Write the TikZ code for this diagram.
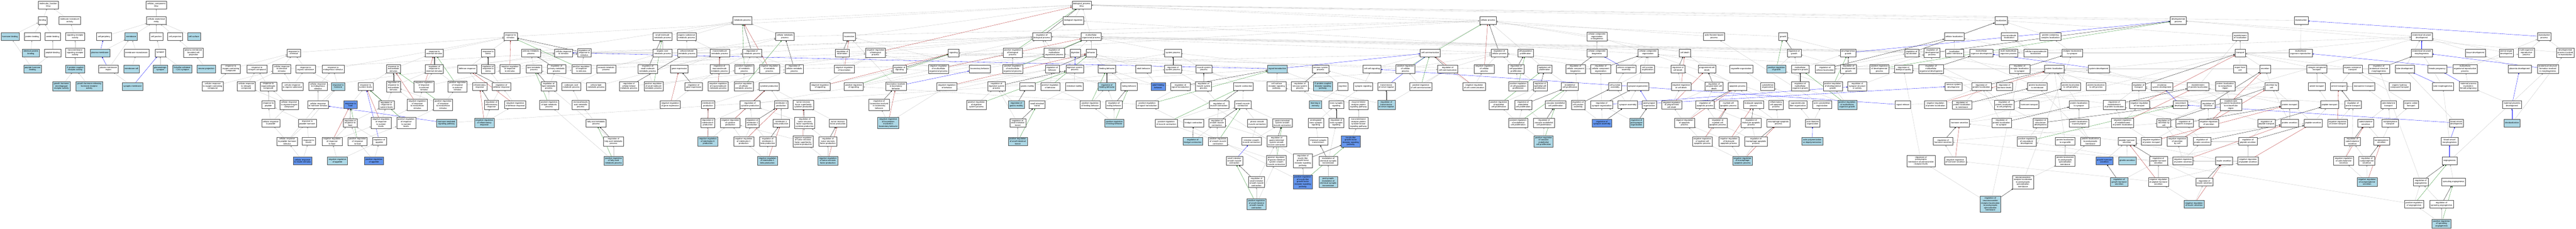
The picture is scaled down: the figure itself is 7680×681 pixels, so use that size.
\documentclass[tikz,border=0pt]{standalone}
\usepackage{fontspec}
\setmainfont{Liberation Sans}
\usetikzlibrary{arrows.meta}
\pgfdeclarelayer{edges}
\pgfsetlayers{edges,main}
\definecolor{hitblue}{HTML}{ADD8E6}
\definecolor{seedblue}{HTML}{6495ED}
\definecolor{negred}{HTML}{B22222}
\definecolor{posgreen}{HTML}{228B22}

\begin{document}
\begin{tikzpicture}[x=1pt,y=-1pt,
  term/.style={draw=black!70,fill=white,line width=0.6pt,align=center,inner xsep=3.5pt,inner ysep=3.5pt,minimum height=23pt,font=\fontsize{6.2}{7}\selectfont},
  hitterm/.style={term,fill=hitblue},
  seedterm/.style={term,fill=seedblue},
  isa/.style={draw=black!24,line width=0.5pt,-{Triangle[length=4pt,width=3.2pt]}},
  regl/.style={isa,draw=black},
  negl/.style={isa,draw=negred},
  posl/.style={isa,draw=posgreen},
  partl/.style={isa,draw=blue},
]
\useasboundingbox (0,0) rectangle (7680,681);

% molecular function
\node[term] (mf) at (144,14.5) {molecular\_function\\Ghsr};
\node[term] (bind) at (127,61) {binding};
\node[term] (moltr) at (208,61) {molecular transducer\\activity};
\node[hitterm] (hormb) at (30,109) {hormone binding};
\node[term] (protb) at (96,109) {protein binding};
\node[term] (amideb) at (157,109) {amide binding};
\node[term] (sigrec) at (224,109) {signaling receptor\\activity};
\node[hitterm] (identb) at (92,157) {identical protein\\binding};
\node[term] (peptb) at (157,157) {peptide binding};
\node[term] (tmsig) at (224,157) {transmembrane\\signaling receptor\\activity};
\node[hitterm] (phormb) at (97,205) {peptide hormone\\binding};
\node[hitterm] (gpcr) at (224,205) {G protein-coupled\\receptor activity};
\node[hitterm] (ghsr) at (183,257) {growth hormone\\secretagogue\\receptor activity};
\node[hitterm] (ghrhr) at (266,257) {growth hormone-releasing\\hormone receptor\\activity};

% cellular component
\node[term] (cc) at (466,14.5) {cellular\_component\\Ghsr};
\node[term] (cae) at (466,61) {cellular anatomical\\entity};
\node[term] (cperi) at (310,109) {cell periphery};
\node[hitterm] (memb) at (391,109) {membrane};
\node[term] (cjunc) at (466,109) {cell junction};
\node[term] (cproj) at (522,109) {cell projection};
\node[hitterm] (csurf) at (578,109) {cell surface};
\node[hitterm] (pm) at (298,157) {plasma membrane};
\node[term] (mmicro) at (407,157) {membrane microdomain};
\node[term] (syn) at (478,157) {synapse};
\node[term] (pmbcp) at (577,157) {plasma membrane\\bounded cell\\projection};
\node[term] (pmreg) at (323,205) {plasma membrane\\region};
\node[hitterm] (mraft) at (392,205) {membrane raft};
\node[hitterm] (gsyn) at (478,205) {glutamatergic\\synapse};
\node[hitterm] (schaf) at (543,205) {Schaffer collateral\\- CA1 synapse};
\node[hitterm] (nproj) at (615,205) {neuron projection};
\node[hitterm] (synm) at (395,257) {synaptic membrane};

% biological process: response to stimulus
\node[term] (rstim) at (1522,109) {response to\\stimulus};
\node[term] (rchem) at (876,157) {response to\\chemical};
\node[term] (rext) at (1295,157) {response to\\external stimulus};
\node[term] (rstress) at (1455,157) {response to\\stress};
\node[term] (pmp) at (1583,157) {primary metabolic\\process};
\node[term] (crstim) at (1680,157) {cellular response\\to stimulus};
\node[term] (regrs) at (1742,157) {regulation of\\response to\\stimulus};
\node[term] (ro2) at (688,205) {response to\\oxygen-containing\\compound};
\node[term] (rnitro) at (766,205) {response to\\nitrogen compound};
\node[term] (crchem) at (840,205) {cellular response\\to chemical\\stimulus};
\node[term] (rorg) at (911,205) {response to\\organic substance};
\node[term] (rendo) at (993,205) {response to\\endogenous stimulus};
\node[term] (rexc) at (1173,205) {response to\\extracellular\\stimulus};
\node[term] (regrext) at (1295,205) {regulation of\\response to\\external stimulus};
\node[term] (defr) at (1393,205) {defense response};
\node[term] (regrstress) at (1455,205) {regulation of\\response to\\stress};
\node[term] (nregrs) at (1520,205) {negative regulation\\of response\\to stimulus};
\node[term] (lmp) at (1592,205) {lipid metabolic\\process};
\node[term] (regpmp) at (1659,205) {regulation of\\primary metabolic\\process};
\node[term] (pregrs) at (1733,205) {positive regulation\\of response\\to stimulus};
\node[term] (oxo) at (1807,205) {oxoacid metabolic\\process};
\node[term] (regsmmp) at (1931,205) {regulation of\\small molecule\\metabolic process};
\node[term] (cro2) at (634,257) {cellular response\\to oxygen-containing\\compound};
\node[term] (crnitro) at (734,257) {cellular response\\to nitrogen\\compound};
\node[term] (rorgn) at (800,257) {response to\\organonitrogen\\compound};
\node[term] (crorg) at (872,257) {cellular response\\to organic substance};
\node[term] (crendo) at (948,257) {cellular response\\to endogenous\\stimulus};
\node[hitterm] (rhorm) at (1008,257) {response to\\hormone};
\node[term] (rnut) at (1090,257) {response to\\nutrient levels};
\node[term] (regrexc) at (1173,257) {regulation of\\response to\\extracellular\\stimulus};
\node[term] (nregrext) at (1264,257) {negative regulation\\of response\\to external\\stimulus};
\node[term] (pregrext) at (1364,257) {positive regulation\\of response\\to external\\stimulus};
\node[term] (infl) at (1430,257) {inflammatory\\response};
\node[term] (regdef) at (1495,257) {regulation of\\defense response};
\node[term] (reglmp) at (1636,257) {regulation of\\lipid metabolic\\process};
\node[term] (carbox) at (1703,257) {carboxylic acid\\metabolic process};
\node[term] (cellmp) at (1777,257) {cellular lipid\\metabolic process};
\node[term] (regckmp) at (1875,257) {regulation of\\cellular ketone\\metabolic process};
\node[term] (pregsmmp) at (1948,257) {positive regulation\\of small molecule\\metabolic process};
\node[term] (rpep) at (800,312) {response to\\peptide};
\node[term] (crorgn) at (862,312) {cellular response\\to organonitrogen\\compound};
\node[term] (crhorm) at (948,312) {cellular response\\to hormone stimulus};
\node[seedterm] (rfood) at (1045,312) {response to\\food};
\node[term] (regrnut) at (1152,312) {regulation of\\response to\\nutrient levels};
\node[term] (nregrexc) at (1244,312) {negative regulation\\of response\\to extracellular\\stimulus};
\node[term] (pregrexc) at (1321,312) {positive regulation\\of response\\to extracellular\\stimulus};
\node[term] (reginfl) at (1465,312) {regulation of\\inflammatory\\response};
\node[term] (nregdef) at (1536,312) {negative regulation\\of defense response};
\node[term] (preglmp) at (1637,312) {positive regulation\\of lipid metabolic\\process};
\node[term] (monocarb) at (1731,312) {monocarboxylic\\acid metabolic\\process};
\node[term] (crpep) at (807,366) {cellular response\\to peptide};
\node[term] (rphorm) at (916,366) {response to\\peptide hormone};
\node[term] (regrfood) at (1044,366) {regulation of\\response to\\food};
\node[term] (nregrnut) at (1136,366) {negative regulation\\of response\\to nutrient\\levels};
\node[term] (pregrnut) at (1211,366) {positive regulation\\of response\\to nutrient\\levels};
\node[hitterm] (hmsig) at (1331,366) {hormone-mediated\\signaling pathway};
\node[hitterm] (nreginfl) at (1444,366) {negative regulation\\of inflammatory\\response};
\node[term] (famp) at (1777,366) {fatty acid metabolic\\process};
\node[term] (crphorm) at (856,421) {cellular response\\to peptide hormone\\stimulus};
\node[term] (rins) at (920,421) {response to\\insulin};
\node[term] (nregrfood) at (990,421) {negative regulation\\of response\\to food};
\node[term] (pregrfood) at (1066,421) {positive regulation\\of response\\to food};
\node[term] (regapp) at (1131,421) {regulation of\\appetite};
\node[term] (regfamp) at (1829,421) {regulation of\\fatty acid metabolic\\process};
\node[seedterm] (crins) at (902,479) {cellular response\\to insulin stimulus};
\node[hitterm] (nregapp) at (1006,479) {negative regulation\\of appetite};
\node[seedterm] (pregapp) at (1115,479) {positive regulation\\of appetite};
\node[hitterm] (pregfamp) at (1829,479) {positive regulation\\of fatty acid\\metabolic process};

% metabolism, regulation, behavior
\node[term] (bp) at (3225,14.5) {biological\_process\\Ghsr};
\node[term] (mp) at (2213,61) {metabolic process};
\node[term] (bioreg) at (3200,61) {biological regulation};
\node[term] (smmp) at (1975,109) {small molecule\\metabolic process};
\node[term] (osmp) at (2047,109) {organic substance\\metabolic process};
\node[term] (cmp) at (2340,109) {cellular metabolic\\process};
\node[term] (loco) at (2532,109) {locomotion};
\node[term] (regbp) at (3106,109) {regulation of\\biological process};
\node[term] (oamp) at (1975,157) {organic acid\\metabolic process};
\node[term] (ckmp) at (2048,157) {cellular ketone\\metabolic process};
\node[term] (mmp) at (2146,157) {macromolecule\\metabolic process};
\node[term] (regmp) at (2242,157) {regulation of\\metabolic process};
\node[term] (regloco) at (2511,157) {regulation of\\locomotion};
\node[term] (nregbp) at (2610,157) {negative regulation\\of biological\\process};
\node[term] (sig) at (2843,157) {signaling};
\node[term] (pregbp) at (3019,157) {positive regulation\\of biological\\process};
\node[term] (regmop) at (3143,157) {regulation of\\multicellular\\organismal process};
\node[term] (dig) at (3206,157) {digestion};
\node[term] (gexp) at (2025,205) {gene expression};
\node[term] (regmmp) at (2145,205) {regulation of\\macromolecule\\metabolic process};
\node[term] (pregmp) at (2219,205) {positive regulation\\of metabolic\\process};
\node[term] (nregmp) at (2294,205) {negative regulation\\of metabolic\\process};
\node[term] (regcmp) at (2368,205) {regulation of\\cellular metabolic\\process};
\node[term] (nregloco) at (2517,205) {negative regulation\\of locomotion};
\node[term] (regsig) at (2682,205) {regulation of\\signaling};
\node[term] (nregmop) at (2798,205) {negative regulation\\of multicellular\\organismal process};
\node[term] (lbeh) at (2921,205) {locomotory behavior};
\node[term] (pregmop) at (3019,205) {positive regulation\\of multicellular\\organismal process};
\node[term] (regbeh) at (3137,205) {regulation of\\behavior};
\node[term] (digsp) at (3204,205) {digestive system\\process};
\node[term] (regge) at (2068,257) {regulation of\\gene expression};
\node[term] (nregmmp) at (2141,257) {negative regulation\\of macromolecule\\metabolic process};
\node[term] (pregcmp) at (2217,257) {positive regulation\\of cellular\\metabolic process};
\node[term] (cytok) at (2293,257) {cytokine production};
\node[term] (nregsig) at (2445,257) {negative regulation\\of signaling};
\node[term] (pregsig) at (2545,257) {positive regulation\\of signaling};
\node[term] (lilb) at (2671,257) {locomotion involved\\in locomotory\\behavior};
\node[term] (nregbeh) at (2823,257) {negative regulation\\of behavior};
\node[term] (regdsp) at (2971,257) {regulation of\\digestive system\\process};
\node[term] (gmot) at (3063,257) {gastric motility};
\node[term] (pregbeh) at (3131,257) {positive regulation\\of behavior};
\node[term] (imot) at (3203,257) {intestinal motility};
\node[term] (nregge) at (1998,312) {negative regulation\\of gene expression};
\node[term] (il6) at (2111,312) {interleukin-6\\production};
\node[term] (regcytok) at (2236,312) {regulation of\\cytokine production};
\node[term] (il1) at (2329,312) {interleukin-1\\production};
\node[term] (tnfsf) at (2395,312) {tumor necrosis\\factor superfamily\\cytokine production};
\node[term] (reglilb) at (2621,312) {regulation of\\locomotion involved\\in locomotory\\behavior};
\node[term] (pregdsp) at (2911,312) {positive regulation\\of digestive\\system process};
\node[hitterm] (reggmot) at (3030,312) {regulation of\\gastric motility};
\node[term] (sit) at (3092,312) {small intestinal\\transit};
\node[term] (regil6) at (2110,366) {regulation of\\interleukin-6\\production};
\node[term] (nregcytok) at (2177,366) {negative regulation\\of cytokine\\production};
\node[term] (regil1) at (2243,366) {regulation of\\interleukin-1\\production};
\node[term] (il1b) at (2329,366) {interleukin-1\\beta production};
\node[term] (regtnfsf) at (2399,366) {regulation of\\tumor necrosis\\factor superfamily\\cytokine production};
\node[term] (tnf) at (2498,366) {tumor necrosis\\factor production};
\node[hitterm] (nreglilb) at (2648,366) {negative regulation\\of locomotion\\involved in\\locomotory behavior};
\node[term] (regsit) at (3034,366) {regulation of\\small intestinal\\transit};
\node[hitterm] (nregil6) at (2110,421) {negative regulation\\of interleukin-6\\production};
\node[term] (nregil1) at (2217,421) {negative regulation\\of interleukin-1\\production};
\node[term] (regil1b) at (2289,421) {regulation of\\interleukin-1\\beta production};
\node[term] (nregtnfsf) at (2394,421) {negative regulation\\of tumor necrosis\\factor superfamily\\cytokine production};
\node[term] (regtnf) at (2468,421) {regulation of\\tumor necrosis\\factor production};
\node[hitterm] (pregsit) at (3034,421) {positive regulation\\of small intestinal\\transit};
\node[hitterm] (nregil1b) at (2288,479) {negative regulation\\of interleukin-1\\beta production};
\node[hitterm] (nregtnf) at (2468,479) {negative regulation\\of tumor necrosis\\factor production};

% system processes, signaling
\node[term] (cp) at (4436,61) {cellular process};
\node[term] (mop) at (3253,109) {multicellular\\organismal process};
\node[term] (beh) at (3253,157) {behavior};
\node[term] (sysp) at (3497,157) {system process};
\node[term] (ccomm) at (4264,157) {cell communication};
\node[term] (regcp) at (4470,157) {regulation of\\cellular process};
\node[term] (fbeh) at (3300,205) {feeding behavior};
\node[term] (abeh) at (3409,205) {adult behavior};
\node[term] (regsysp) at (3497,205) {regulation of\\system process};
\node[term] (msp) at (3589,205) {muscle system\\process};
\node[hitterm] (sigt) at (3808,205) {signal transduction};
\node[term] (nsp) at (3937,205) {nervous system\\process};
\node[term] (ccsig) at (4090,205) {cell-cell signaling};
\node[term] (pregcp) at (4190,205) {positive regulation\\of cellular\\process};
\node[term] (regcc) at (4316,205) {regulation of\\cell communication};
\node[term] (nregcp) at (4425,205) {negative regulation\\of cellular\\process};
\node[hitterm] (regfbeh) at (3300,257) {regulation of\\feeding behavior};
\node[term] (ebeh) at (3366,257) {eating behavior};
\node[seedterm] (afbeh) at (3453,257) {adult feeding\\behavior};
\node[term] (regst) at (3519,257) {regulation of\\signal transduction};
\node[term] (regmsp) at (3588,257) {regulation of\\muscle system\\process};
\node[term] (mcon) at (3707,257) {muscle contraction};
\node[term] (csrsp) at (3806,257) {cell surface\\receptor signaling\\pathway};
\node[term] (regnsp) at (3875,257) {regulation of\\nervous system\\process};
\node[hitterm] (gpcrsp) at (3944,257) {G protein-coupled\\receptor signaling\\pathway};
\node[term] (cogn) at (4003,257) {cognition};
\node[term] (synsig) at (4064,257) {synaptic signaling};
\node[term] (tni) at (4133,257) {transmission\\of nerve impulse};
\node[term] (pregcc) at (4236,257) {positive regulation\\of cell communication};
\node[term] (nregcc) at (4395,257) {negative regulation\\of cell communication};
\node[term] (pregfbeh) at (3250,312) {positive regulation\\of feeding behavior};
\node[term] (regebeh) at (3321,312) {regulation of\\eating behavior};
\node[term] (pregst) at (3420,312) {positive regulation\\of signal transduction};
\node[term] (regmcon) at (3634,312) {regulation of\\muscle contraction};
\node[term] (smcon) at (3705,312) {smooth muscle\\contraction};
\node[hitterm] (learn) at (3922,312) {learning or\\memory};
\node[term] (tsyn) at (3984,312) {trans-synaptic\\signaling};
\node[term] (elrp) at (4050,312) {enzyme-linked\\receptor protein\\signaling pathway};
\node[hitterm] (regtni) at (4133,312) {regulation of\\transmission\\of nerve impulse};
\node[term] (pregepi) at (4468,312) {positive regulation\\of epithelial\\cell proliferation};
\node[hitterm] (pregebeh) at (3322,366) {positive regulation\\of eating behavior};
\node[term] (pregmcon) at (3477,366) {positive regulation\\of muscle contraction};
\node[term] (hgcon) at (3558,366) {hindgut contraction};
\node[term] (regsmcon) at (3628,366) {regulation of\\smooth muscle\\contraction};
\node[term] (phsm) at (3748,366) {phasic smooth\\muscle contraction};
\node[term] (gism) at (3823,366) {gastro-intestinal\\system smooth\\muscle contraction};
\node[term] (atsyn) at (3923,366) {anterograde\\trans-synaptic\\signaling};
\node[term] (regtsyn) at (3984,366) {regulation of\\trans-synaptic\\signaling};
\node[term] (rptk) at (4050,366) {transmembrane\\receptor protein\\tyrosine kinase\\signaling pathway};
\node[hitterm] (reghg) at (3556,421) {regulation of\\hindgut contraction};
\node[term] (pregsmcon) at (3631,421) {positive regulation\\of smooth muscle\\contraction};
\node[term] (ismc) at (3731,421) {intestine smooth\\muscle contraction};
\node[term] (reggism) at (3806,421) {regulation of\\gastro-intestinal\\system smooth\\muscle contraction};
\node[term] (cst) at (3930,421) {chemical synaptic\\transmission};
\node[seedterm] (igfr) at (4027,421) {insulin-like\\growth factor\\receptor signaling\\pathway};
\node[term] (sismc) at (3680,479) {small intestine\\smooth muscle\\contraction};
\node[term] (preggism) at (3805,479) {positive regulation\\of gastro-intestinal\\system smooth\\muscle contraction};
\node[term] (regigfr) at (3884,479) {regulation of\\insulin-like\\growth factor\\receptor signaling\\pathway};
\node[term] (modcst) at (3960,479) {modulation of\\chemical synaptic\\transmission};
\node[term] (regsismc) at (3746,542) {regulation of\\small intestine\\smooth muscle\\contraction};
\node[seedterm] (pregigfr) at (3884,542) {positive regulation\\of insulin-like\\growth factor\\receptor signaling\\pathway};
\node[hitterm] (psmcst) at (3960,542) {postsynaptic\\modulation of\\chemical synaptic\\transmission};
\node[hitterm] (pregsismc) at (3746,608) {positive regulation\\of small intestine\\smooth muscle\\contraction};

% proliferation, organization, death, growth
\node[term] (ccob) at (4761,109) {cellular component\\organization\\or biogenesis};
\node[term] (afbp) at (5110,109) {actin filament-based\\process};
\node[term] (growth) at (5316,109) {growth};
\node[term] (cpp) at (4548,157) {cell population\\proliferation};
\node[term] (ccb) at (4761,157) {cellular component\\biogenesis};
\node[term] (cco) at (4913,157) {cellular component\\organization};
\node[term] (cdeath) at (5023,157) {cell death};
\node[term] (reggrowth) at (5349,157) {regulation of\\growth};
\node[term] (devg) at (5510,157) {developmental\\growth};
\node[term] (regloc) at (5699,157) {regulation of\\localization};
\node[term] (regdp) at (5760,157) {regulation of\\developmental\\process};
\node[term] (regcpp) at (4520,205) {regulation of\\cell population\\proliferation};
\node[term] (epi) at (4605,205) {epithelial cell\\proliferation};
\node[term] (regccb) at (4697,205) {regulation of\\cellular component\\biogenesis};
\node[term] (regcco) at (4772,205) {regulation of\\cellular component\\organization};
\node[term] (cca) at (4848,205) {cellular component\\assembly};
\node[term] (cjo) at (4912,205) {cell junction\\organization};
\node[term] (regcd) at (5002,205) {regulation of\\cell death};
\node[term] (pcd) at (5089,205) {programmed cell\\death};
\node[term] (orgo) at (5191,205) {organelle organization};
\node[hitterm] (preggrowth) at (5296,205) {positive regulation\\of growth};
\node[term] (mog) at (5367,205) {multicellular\\organism growth};
\node[term] (regcloc) at (5441,205) {regulation of\\cellular localization};
\node[term] (regdevg) at (5511,205) {regulation of\\developmental\\growth};
\node[term] (pregdp) at (5603,205) {positive regulation\\of developmental\\process};
\node[term] (regbq) at (5675,205) {regulation of\\biological quality};
\node[term] (regmod) at (5757,205) {regulation of\\multicellular\\organismal development};
\node[term] (pregcpp) at (4526,257) {positive regulation\\of cell population\\proliferation};
\node[term] (regepi) at (4592,257) {regulation of\\epithelial cell\\proliferation};
\node[term] (endo) at (4680,257) {endothelial\\cell proliferation};
\node[term] (cja) at (4815,257) {cell junction\\assembly};
\node[term] (syno) at (4883,257) {synapse organization};
\node[term] (nregcd) at (5012,257) {negative regulation\\of cell death};
\node[term] (regpcd) at (5110,257) {regulation of\\programmed cell\\death};
\node[term] (apop) at (5180,257) {apoptotic process};
\node[term] (cyto) at (5270,257) {cytoskeleton\\organization};
\node[term] (regmog) at (5367,257) {regulation of\\multicellular\\organism growth};
\node[term] (pregdevg) at (5464,257) {positive regulation\\of developmental\\growth};
\node[term] (regssa) at (5537,257) {regulation of\\synapse structure\\or activity};
\node[term] (regendo) at (4541,312) {regulation of\\endothelial\\cell proliferation};
\node[term] (vendo) at (4638,312) {vascular endothelial\\cell proliferation};
\node[term] (regcja) at (4705,312) {regulation of\\cell junction\\assembly};
\node[term] (regsyno) at (4775,312) {regulation of\\synapse organization};
\node[term] (synas) at (4853,312) {synapse assembly};
\node[term] (psyno) at (4917,312) {postsynapse\\organization};
\node[term] (nregpcd) at (4984,312) {negative regulation\\of programmed\\cell death};
\node[term] (regapop) at (5083,312) {regulation of\\apoptotic process};
\node[term] (mcap) at (5153,312) {myeloid cell\\apoptotic process};
\node[term] (lap) at (5228,312) {leukocyte apoptotic\\process};
\node[term] (icap) at (5295,312) {inflammatory\\cell apoptotic\\process};
\node[term] (sfo) at (5360,312) {supramolecular\\fiber organization};
\node[term] (aco) at (5432,312) {actin cytoskeleton\\organization};
\node[hitterm] (pregmog) at (5507,312) {positive regulation\\of multicellular\\organism growth};
\node[term] (srel) at (5673,312) {signal release};
\node[term] (nregploc) at (5770,312) {negative regulation\\of protein localization};
\node[term] (pregendo) at (4526,366) {positive regulation\\of endothelial\\cell proliferation};
\node[term] (regvendo) at (4603,366) {regulation of\\vascular endothelial\\cell proliferation};
\node[seedterm] (regsynas) at (4776,366) {regulation of\\synapse assembly};
\node[hitterm] (regpsyno) at (4879,366) {regulation of\\postsynapse\\organization};
\node[term] (nregapop) at (5022,366) {negative regulation\\of apoptotic\\process};
\node[term] (regmcap) at (5121,366) {regulation of\\myeloid cell\\apoptotic process};
\node[term] (reglap) at (5221,366) {regulation of\\leukocyte apoptotic\\process};
\node[term] (mapop) at (5302,366) {macrophage apoptotic\\process};
\node[term] (afo) at (5404,366) {actin filament\\organization};
\node[hitterm] (pregvendo) at (4602,421) {positive regulation\\of vascular\\endothelial\\cell proliferation};
\node[term] (nregmcap) at (5075,421) {negative regulation\\of myeloid cell\\apoptotic process};
\node[term] (nreglap) at (5154,421) {negative regulation\\of leukocyte\\apoptotic process};
\node[term] (regmapop) at (5235,421) {regulation of\\macrophage apoptotic\\process};
\node[hitterm] (apod) at (5403,421) {actin polymerization\\or depolymerization};
\node[hitterm] (nregmapop) at (5195,479) {negative regulation\\of macrophage\\apoptotic process};
\node[term] (regpnrl) at (5727,479) {regulation of\\postsynaptic\\membrane neurotransmitter\\receptor levels};

% localization, transport, secretion
\node[term] (loc) at (5966,61) {localization};
\node[term] (dp) at (6494,61) {developmental\\process};
\node[term] (repro) at (6860,61) {reproduction};
\node[term] (cloc) at (5826,109) {cellular localization};
\node[term] (mloc) at (5990,109) {macromolecule\\localization};
\node[term] (pcloc) at (6113,109) {protein-containing\\complex localization};
\node[term] (estloc) at (6679,109) {establishment\\of localization};
\node[term] (locmem) at (5827,157) {localization\\within membrane};
\node[term] (mod) at (5907,157) {multicellular\\organism development};
\node[term] (mmop) at (5988,157) {multi-multicellular\\organism process};
\node[term] (cmloc) at (6069,157) {cellular macromolecule\\localization};
\node[term] (rls) at (6178,157) {receptor localization\\to synapse};
\node[term] (transp) at (6679,157) {transport};
\node[term] (mor) at (6859,157) {multicellular\\organism reproduction};
\node[term] (regrls) at (6021,205) {regulation of\\receptor localization\\to synapse};
\node[term] (ploc) at (6124,205) {protein localization};
\node[term] (sysdev) at (6257,205) {system development};
\node[term] (expc) at (6678,205) {export from\\cell};
\node[term] (secr) at (6753,205) {secretion};
\node[term] (nct) at (6907,205) {nitrogen compound\\transport};
\node[term] (ost) at (7014,205) {organic substance\\transport};
\node[term] (nsdev) at (5824,257) {nervous system\\development};
\node[term] (regploc) at (5907,257) {regulation of\\protein localization};
\node[term] (reghl) at (5976,257) {regulation of\\hormone levels};
\node[term] (plocm) at (6074,257) {protein localization\\to membrane};
\node[term] (plocp) at (6174,257) {protein localization\\to cell periphery};
\node[term] (plocj) at (6249,257) {protein localization\\to cell junction};
\node[term] (regtr) at (6376,257) {regulation of\\transport};
\node[term] (csdev) at (6445,257) {circulatory\\system development};
\node[term] (estploc) at (6553,257) {establishment\\of protein localization};
\node[term] (plocer) at (6634,257) {protein localization\\to extracellular\\region};
\node[term] (secc) at (6772,257) {secretion by\\cell};
\node[term] (amt) at (6907,257) {amide transport};
\node[term] (aminet) at (6972,257) {amine transport};
\node[term] (monot) at (7047,257) {monoamine transport};
\node[term] (regplocm) at (5849,312) {regulation of\\protein localization\\to membrane};
\node[term] (regplocp) at (5975,312) {regulation of\\protein localization\\to cell periphery};
\node[term] (hormt) at (6050,312) {hormone transport};
\node[term] (plocs) at (6198,312) {protein localization\\to synapse};
\node[term] (regestploc) at (6303,312) {regulation of\\establishment\\of protein localization};
\node[term] (nregtr) at (6378,312) {negative regulation\\of transport};
\node[term] (vdev) at (6501,312) {vasculature\\development};
\node[term] (regsec) at (6583,312) {regulation of\\secretion};
\node[term] (estpler) at (6651,312) {establishment\\of protein localization\\to extracellular\\region};
\node[term] (ptr) at (6826,312) {protein transport};
\node[term] (pept) at (6945,312) {peptide transport};
\node[term] (regamt) at (7015,312) {regulation of\\amine transport};
\node[term] (hsec) at (5842,366) {hormone secretion};
\node[term] (regplocs) at (5967,366) {regulation of\\protein localization\\to synapse};
\node[term] (regvdev) at (6083,366) {regulation of\\vasculature\\development};
\node[term] (plocps) at (6198,366) {protein localization\\to postsynapse};
\node[term] (nregestploc) at (6328,366) {negative regulation\\of establishment\\of protein localization};
\node[term] (regsecc) at (6451,366) {regulation of\\secretion by\\cell};
\node[term] (regptr) at (6513,366) {regulation of\\protein transport};
\node[term] (nregsec) at (6585,366) {negative regulation\\of secretion};
\node[term] (regpept) at (6757,366) {regulation of\\peptide transport};
\node[term] (psec) at (6826,366) {protein secretion};
\node[term] (pepsec) at (6896,366) {peptide secretion};
\node[term] (nregamt) at (6969,366) {negative regulation\\of amine transport};
\node[term] (catsec) at (7053,366) {catecholamine\\secretion};
\node[term] (reghsec) at (5793,421) {regulation of\\hormone secretion};
\node[term] (pregvdev) at (6042,421) {positive regulation\\of vasculature\\development};
\node[term] (ploco) at (6157,421) {protein localization\\to organelle};
\node[term] (plocpm) at (6232,421) {protein localization\\to postsynaptic\\membrane};
\node[term] (phsec) at (6341,421) {peptide hormone\\secretion};
\node[term] (nregptr) at (6414,421) {negative regulation\\of protein transport};
\node[term] (nregsecc) at (6491,421) {negative regulation\\of secretion\\by cell};
\node[term] (regpsec) at (6565,421) {regulation of\\protein secretion};
\node[term] (regpepsec) at (6702,421) {regulation of\\peptide secretion};
\node[term] (regcatsec) at (7013,421) {regulation of\\catecholamine\\secretion};
\node[term] (nreghsec) at (5829,479) {negative regulation\\of hormone secretion};
\node[term] (plocpsm) at (6157,479) {protein localization\\to postsynaptic\\specialization\\membrane};
\node[seedterm] (ghsec) at (6274,479) {growth hormone\\secretion};
\node[hitterm] (ghrsec) at (6342,479) {ghrelin secretion};
\node[term] (regphsec) at (6435,479) {regulation of\\peptide hormone\\secretion};
\node[term] (nregpsec) at (6508,479) {negative regulation\\of protein secretion};
\node[term] (inssec) at (6630,479) {insulin secretion};
\node[term] (nregpepsec) at (6702,479) {negative regulation\\of peptide secretion};
\node[term] (nregcatsec) at (6987,479) {negative regulation\\of catecholamine\\secretion};
\node[term] (regnesec) at (7056,479) {regulation of\\norepinephrine\\secretion};
\node[term] (ntrl) at (6031,542) {neurotransmitter\\receptor localization\\to postsynaptic\\specialization\\membrane};
\node[hitterm] (regghsec) at (6318,542) {regulation of\\growth hormone\\secretion};
\node[term] (nregphsec) at (6435,542) {negative regulation\\of peptide hormone\\secretion};
\node[term] (reginssec) at (6572,542) {regulation of\\insulin secretion};
\node[hitterm] (nregnesec) at (7057,542) {negative regulation\\of norepinephrine\\secretion};
\node[hitterm] (regntrl) at (5934,608) {regulation of\\neurotransmitter\\receptor localization\\to postsynaptic\\specialization\\membrane};
\node[hitterm] (nreginssec) at (6541,608) {negative regulation\\of insulin secretion};

% development, reproduction
\node[term] (asd) at (7220,109) {anatomical structure\\development};
\node[term] (reprop) at (7585,109) {reproductive\\process};
\node[term] (asm) at (7220,157) {anatomical structure\\morphogenesis};
\node[term] (tissd) at (7380,157) {tissue development};
\node[term] (aod) at (7472,157) {animal organ\\development};
\node[term] (mrp) at (7532,157) {multi-organism\\reproductive\\process};
\node[term] (dpir) at (7648,157) {developmental\\process involved\\in reproduction};
\node[term] (regasm) at (7092,205) {regulation of\\anatomical structure\\morphogenesis};
\node[term] (tubed) at (7169,205) {tube development};
\node[term] (fpreg) at (7266,205) {female pregnancy};
\node[term] (morp) at (7349,205) {multicellular\\organismal reproductive\\process};
\node[term] (pland) at (7512,205) {placenta development};
\node[term] (asfm) at (7596,205) {anatomical structure\\formation involved\\in morphogenesis};
\node[term] (ohct) at (7154,257) {organic hydroxy\\compound transport};
\node[term] (tubem) at (7283,257) {tube morphogenesis};
\node[term] (mpfp) at (7359,257) {maternal process\\involved in\\female pregnancy};
\node[term] (catt) at (7121,312) {catecholamine\\transport};
\node[term] (oct) at (7188,312) {organic cation\\transport};
\node[term] (mpd) at (7489,312) {maternal placenta\\development};
\node[term] (net) at (7126,366) {norepinephrine\\transport};
\node[term] (bvd) at (7323,366) {blood vessel\\development};
\node[hitterm] (decid) at (7489,366) {decidualization};
\node[term] (nesec) at (7100,421) {norepinephrine\\secretion};
\node[term] (bvm) at (7303,421) {blood vessel\\morphogenesis};
\node[term] (angio) at (7303,479) {angiogenesis};
\node[term] (regangio) at (7217,542) {regulation of\\angiogenesis};
\node[term] (sangio) at (7315,542) {sprouting angiogenesis};
\node[term] (pregangio) at (7197,608) {positive regulation\\of angiogenesis};
\node[term] (regsangio) at (7279,608) {regulation of\\sprouting angiogenesis};
\node[hitterm] (pregsangio) at (7279,666) {positive regulation\\of sprouting\\angiogenesis};

\begin{pgfonlayer}{edges}
\fill[white] (0,0) rectangle (7680,681);
% is_a
\draw[isa] (bind) edge (mf) (moltr) edge (mf);
\draw[isa] (hormb) edge (bind) (protb) edge (bind) (amideb) edge (bind);
\draw[isa] (sigrec) edge (moltr) (identb) edge (protb) (peptb) edge (amideb);
\draw[isa] (tmsig) edge (sigrec) (gpcr) edge (tmsig) (ghsr) edge (gpcr) (ghrhr) edge (gpcr);
\draw[isa] (phormb) edge (hormb) edge (peptb);
\draw[isa] (cae) edge (cc) (cperi) edge (cae) (memb) edge (cae) (cjunc) edge (cae) (cproj) edge (cae) (csurf) edge (cae);
\draw[isa] (pm) edge (memb) (pmreg) edge (memb) (mmicro) edge (memb) (mraft) edge (mmicro);
\draw[isa] (syn) edge (cjunc) (gsyn) edge (syn) (schaf) edge (syn) (synm) edge (pmreg);
\draw[isa] (pmbcp) edge (cproj) (nproj) edge (pmbcp);
\draw[isa] (rstim) edge (bp) (mp) edge (bp) (bioreg) edge (bp) (cp) edge (bp) (loc) edge (bp);
\draw[isa] (dp) edge (bp) (repro) edge (bp) (mop) edge (bp) (loco) edge (bp) (growth) edge (bp);
\draw[isa] (sig) edge (cp) (ccomm) edge (cp) (regbp) edge (bioreg) (regbq) edge (bioreg);
\draw[isa] (rchem) edge (rstim) (rext) edge (rstim) (rstress) edge (rstim) (rendo) edge (rstim);
\draw[isa] (crstim) edge (rstim) edge (cp);
\draw[isa] (pmp) edge (mp) (smmp) edge (mp) (osmp) edge (mp);
\draw[isa] (cmp) edge (mp) edge (cp);
\draw[isa] (oamp) edge (smmp) (oxo) edge (oamp) (carbox) edge (oxo) (monocarb) edge (carbox) (famp) edge (monocarb);
\draw[isa] (ckmp) edge (osmp) edge (cmp);
\draw[isa] (mmp) edge (osmp) edge (pmp);
\draw[isa] (regrs) edge (regbp) (regmp) edge (regbp) (regloco) edge (regbp) (nregbp) edge (regbp);
\draw[isa] (pregbp) edge (regbp) (regmop) edge (regbp) (regcp) edge (regbp) (regsig) edge (regbp) (regbeh) edge (regbp);
\draw[isa] (dig) edge (mop) (beh) edge (mop) (sysp) edge (mop);
\draw[isa] (ro2) edge (rchem) (rnitro) edge (rchem) (rorg) edge (rchem);
\draw[isa] (crchem) edge (rchem) edge (crstim);
\draw[isa] (rexc) edge (rext) (defr) edge (rstress) (regrext) edge (regrs) (regrstress) edge (regrs);
\draw[isa] (nregrs) edge (regrs) edge (nregbp);
\draw[isa] (pregrs) edge (regrs) edge (pregbp);
\draw[isa] (lmp) edge (pmp) (regpmp) edge (regmp) (regsmmp) edge (regmp) (regmmp) edge (regmp) (gexp) edge (mmp);
\draw[isa] (pregmp) edge (regmp) edge (pregbp);
\draw[isa] (nregmp) edge (regmp) edge (nregbp);
\draw[isa] (regcmp) edge (regmp) edge (regcp);
\draw[isa] (nregloco) edge (regloco) edge (nregbp);
\draw[isa] (nregmop) edge (regmop) edge (nregbp);
\draw[isa] (pregmop) edge (regmop) edge (pregbp);
\draw[isa] (lbeh) edge (beh) edge (loco);
\draw[isa] (digsp) edge (sysp) (gmot) edge (digsp) (imot) edge (digsp) (sit) edge (imot);
\draw[isa] (cro2) edge (ro2) edge (crchem);
\draw[isa] (crnitro) edge (rnitro) edge (crchem);
\draw[isa] (crorg) edge (rorg) edge (crchem);
\draw[isa] (crendo) edge (rendo) edge (crstim);
\draw[isa] (rhorm) edge (rendo) edge (rorg);
\draw[isa] (rorgn) edge (rnitro) (rnut) edge (rexc) (rfood) edge (rnut) (rpep) edge (rorgn);
\draw[isa] (regrexc) edge (regrext) (regrnut) edge (regrexc) (regrfood) edge (regrnut) (regapp) edge (regrfood);
\draw[isa] (nregrext) edge (regrext) edge (nregrs);
\draw[isa] (pregrext) edge (regrext) edge (pregrs);
\draw[isa] (infl) edge (defr) (regdef) edge (regrstress) (reginfl) edge (regdef) (nregdef) edge (regdef);
\draw[isa] (reglmp) edge (regpmp) (preglmp) edge (reglmp) (regfamp) edge (reglmp) (regckmp) edge (regcmp);
\draw[isa] (cellmp) edge (lmp) edge (cmp);
\draw[isa] (pregsmmp) edge (regsmmp) edge (pregmp);
\draw[isa] (regge) edge (regmmp) (nregge) edge (regge);
\draw[isa] (nregmmp) edge (regmmp) edge (nregmp);
\draw[isa] (pregcmp) edge (regcmp) edge (pregmp);
\draw[isa] (nregsig) edge (regsig) edge (nregbp);
\draw[isa] (pregsig) edge (regsig) edge (pregbp);
\draw[isa] (lilb) edge (loco) (nregbeh) edge (regbeh) (pregbeh) edge (regbeh) (reglilb) edge (regbeh);
\draw[isa] (regdsp) edge (regsysp) (pregdsp) edge (regdsp) (reggmot) edge (regdsp) (regsit) edge (regdsp) (pregsit) edge (regsit);
\draw[isa] (crorgn) edge (rorgn) edge (crnitro);
\draw[isa] (crhorm) edge (rhorm) edge (crendo);
\draw[isa] (nregrexc) edge (regrexc) edge (nregrext);
\draw[isa] (pregrexc) edge (regrexc) edge (pregrext);
\draw[isa] (il6) edge (cytok) (il1) edge (cytok) (tnfsf) edge (cytok) (il1b) edge (il1) (tnf) edge (tnfsf);
\draw[isa] (regcytok) edge (regmop) (regil6) edge (regcytok) (nregcytok) edge (regcytok) (regil1) edge (regcytok) (regtnfsf) edge (regcytok);
\draw[isa] (regil1b) edge (regil1) (regtnf) edge (regtnfsf);
\draw[isa] (crpep) edge (rpep) edge (crorgn);
\draw[isa] (rphorm) edge (rpep) edge (rhorm);
\draw[isa] (nregrnut) edge (regrnut) edge (nregrexc);
\draw[isa] (pregrnut) edge (regrnut) edge (pregrexc);
\draw[isa] (nreginfl) edge (reginfl) edge (nregdef);
\draw[isa] (nreglilb) edge (reglilb) edge (nregbeh);
\draw[isa] (crphorm) edge (crpep) edge (rphorm) edge (crhorm);
\draw[isa] (rins) edge (rphorm) (hmsig) edge (sigt);
\draw[isa] (nregrfood) edge (regrfood) edge (nregrnut);
\draw[isa] (pregrfood) edge (regrfood) edge (pregrnut);
\draw[isa] (nregil6) edge (regil6) edge (nregcytok);
\draw[isa] (nregil1) edge (regil1) edge (nregcytok);
\draw[isa] (nregtnfsf) edge (regtnfsf) edge (nregcytok);
\draw[isa] (crins) edge (rins) edge (crphorm);
\draw[isa] (nregapp) edge (regapp) edge (nregrfood);
\draw[isa] (pregapp) edge (regapp) edge (pregrfood);
\draw[isa] (pregfamp) edge (regfamp) edge (preglmp);
\draw[isa] (nregil1b) edge (regil1b) edge (nregil1);
\draw[isa] (nregtnf) edge (regtnf) edge (nregtnfsf);
\draw[isa] (fbeh) edge (beh) (abeh) edge (beh) (ebeh) edge (fbeh) (regsysp) edge (regmop);
\draw[isa] (msp) edge (sysp) (nsp) edge (sysp) (sigt) edge (sig) (ccsig) edge (ccomm) (regcc) edge (regcp);
\draw[isa] (pregcp) edge (regcp) edge (pregbp);
\draw[isa] (nregcp) edge (regcp) edge (nregbp);
\draw[isa] (afbeh) edge (abeh) edge (fbeh);
\draw[isa] (regst) edge (regsig) edge (regcc);
\draw[isa] (regfbeh) edge (regbeh) (regebeh) edge (regfbeh) (regmsp) edge (regsysp) (regnsp) edge (regsysp);
\draw[isa] (mcon) edge (msp) (csrsp) edge (sigt) (gpcrsp) edge (sigt) (cogn) edge (nsp) (synsig) edge (ccsig) (tni) edge (nsp);
\draw[isa] (pregcc) edge (regcc) edge (pregcp);
\draw[isa] (nregcc) edge (regcc) edge (nregcp);
\draw[isa] (pregfbeh) edge (regfbeh) edge (pregbeh);
\draw[isa] (pregst) edge (regst) edge (pregsig);
\draw[isa] (regmcon) edge (regmsp) (smcon) edge (mcon) (learn) edge (cogn) (tsyn) edge (synsig) (elrp) edge (csrsp);
\draw[isa] (regtni) edge (regnsp) edge (regcc);
\draw[isa] (pregebeh) edge (regebeh) edge (pregfbeh);
\draw[isa] (pregmcon) edge (regmcon) (hgcon) edge (smcon) (regsmcon) edge (regmcon) (phsm) edge (smcon) (gism) edge (smcon);
\draw[isa] (atsyn) edge (tsyn) (regtsyn) edge (regnsp) (rptk) edge (elrp) (reghg) edge (regsmcon) (reggism) edge (regsmcon);
\draw[isa] (pregsmcon) edge (regsmcon) edge (pregmcon);
\draw[isa] (ismc) edge (phsm) edge (gism);
\draw[isa] (cst) edge (atsyn) (igfr) edge (rptk) (regigfr) edge (regst) (modcst) edge (regtsyn) (regsismc) edge (reggism) (psmcst) edge (modcst);
\draw[isa] (preggism) edge (reggism) edge (pregsmcon);
\draw[isa] (pregigfr) edge (regigfr) edge (pregst);
\draw[isa] (pregsismc) edge (regsismc) edge (preggism);
\draw[isa] (ccob) edge (cp) (afbp) edge (cp) (cpp) edge (cp) (cdeath) edge (cp) (ccb) edge (ccob) (cco) edge (ccob);
\draw[isa] (reggrowth) edge (regbp) (regloc) edge (regbp) (regdp) edge (regbp) (devg) edge (growth);
\draw[isa] (regcpp) edge (regcp) (regcco) edge (regcp) (regcd) edge (regcp) (regccb) edge (regcco);
\draw[isa] (epi) edge (cpp) (cca) edge (cco) (cjo) edge (cco) (orgo) edge (cco) (syno) edge (cco) (sfo) edge (cco) (pcd) edge (cdeath);
\draw[isa] (preggrowth) edge (reggrowth) (regmog) edge (reggrowth) (mog) edge (devg) (regcloc) edge (regloc);
\draw[isa] (regdevg) edge (reggrowth) edge (regdp);
\draw[isa] (pregdp) edge (regdp) (regmod) edge (regdp) (regssa) edge (regbq) (regpnrl) edge (regbq);
\draw[isa] (pregcpp) edge (regcpp) (regepi) edge (regcpp) (endo) edge (epi) (vendo) edge (endo);
\draw[isa] (cja) edge (cjo) edge (cca);
\draw[isa] (nregcd) edge (regcd) (regpcd) edge (regcd) (apop) edge (pcd) (cyto) edge (orgo);
\draw[isa] (pregdevg) edge (regdevg) edge (preggrowth);
\draw[isa] (pregepi) edge (regepi) (regendo) edge (regepi) (regcja) edge (regccb) (regsyno) edge (regcco);
\draw[isa] (synas) edge (syno) edge (cja);
\draw[isa] (nregpcd) edge (regpcd) edge (nregcd);
\draw[isa] (regapop) edge (regpcd) (mcap) edge (apop) (lap) edge (apop) (icap) edge (apop);
\draw[isa] (aco) edge (cyto) edge (afbp);
\draw[isa] (pregmog) edge (regmog) edge (pregdevg);
\draw[isa] (srel) edge (secc) (nregploc) edge (regploc);
\draw[isa] (pregendo) edge (regendo) edge (pregepi);
\draw[isa] (regvendo) edge (regendo) (regpsyno) edge (regsyno) (regmcap) edge (regapop) (reglap) edge (regapop);
\draw[isa] (regsynas) edge (regsyno) edge (regcja);
\draw[isa] (nregapop) edge (regapop) edge (nregpcd);
\draw[isa] (mapop) edge (mcap) edge (lap) edge (icap);
\draw[isa] (afo) edge (aco) edge (sfo);
\draw[isa] (pregvendo) edge (regvendo) edge (pregendo);
\draw[isa] (nregmcap) edge (regmcap) edge (nregapop);
\draw[isa] (nreglap) edge (reglap) edge (nregapop);
\draw[isa] (regmapop) edge (regmcap) edge (reglap);
\draw[isa] (nregmapop) edge (regmapop) edge (nregmcap) edge (nreglap);
\draw[isa] (cloc) edge (loc) (mloc) edge (loc) (pcloc) edge (loc) (estloc) edge (loc) (locmem) edge (cloc);
\draw[isa] (mod) edge (asd) edge (mop);
\draw[isa] (mmop) edge (mop) (rls) edge (pcloc) (transp) edge (estloc) (regrls) edge (regcloc) (ploc) edge (mloc);
\draw[isa] (cmloc) edge (mloc) edge (cloc);
\draw[isa] (mor) edge (repro) edge (mmop);
\draw[isa] (sysdev) edge (asd) (expc) edge (estloc) (secr) edge (transp) (nct) edge (transp) (ost) edge (transp);
\draw[isa] (nsdev) edge (sysdev) (csdev) edge (sysdev) (regploc) edge (regloc) (reghl) edge (regbq) (regtr) edge (regloc);
\draw[isa] (plocm) edge (ploc) edge (locmem);
\draw[isa] (plocp) edge (ploc) (plocj) edge (ploc) (plocer) edge (ploc) (plocs) edge (ploc) (ploco) edge (ploc);
\draw[isa] (estploc) edge (ploc) edge (estloc);
\draw[isa] (secc) edge (secr) edge (expc);
\draw[isa] (aminet) edge (nct) edge (ost);
\draw[isa] (amt) edge (nct) (monot) edge (aminet) (ohct) edge (ost) (tubem) edge (asm) (mpfp) edge (morp);
\draw[isa] (regplocm) edge (regploc) (regplocp) edge (regploc) (regplocs) edge (regploc) (hormt) edge (transp);
\draw[isa] (regestploc) edge (regploc) edge (regtr);
\draw[isa] (nregtr) edge (regtr) (regsec) edge (regtr) (regamt) edge (regtr) (regpept) edge (regtr) (vdev) edge (asd);
\draw[isa] (estpler) edge (estploc) edge (plocer);
\draw[isa] (ptr) edge (estploc) (pept) edge (amt) (catt) edge (monot) (oct) edge (ost) (mpd) edge (mpfp);
\draw[isa] (hsec) edge (hormt) edge (secc);
\draw[isa] (regvdev) edge (regmod) (plocps) edge (plocs) (regsecc) edge (regsec) (regptr) edge (regestploc);
\draw[isa] (nregestploc) edge (regestploc) edge (nregtr);
\draw[isa] (nregsec) edge (regsec) edge (nregtr);
\draw[isa] (psec) edge (ptr) edge (secc);
\draw[isa] (pepsec) edge (pept) edge (secc);
\draw[isa] (nregamt) edge (regamt) (catsec) edge (catt) (bvd) edge (tubed) (decid) edge (dpir);
\draw[isa] (net) edge (catt) edge (oct);
\draw[isa] (reghsec) edge (regsecc) (pregvdev) edge (regvdev) (regcatsec) edge (regamt) (bvm) edge (tubem);
\draw[isa] (plocpm) edge (plocps) edge (plocm);
\draw[isa] (phsec) edge (hsec) edge (pepsec);
\draw[isa] (nregptr) edge (regptr) edge (nregestploc);
\draw[isa] (nregsecc) edge (regsecc) edge (nregsec);
\draw[isa] (regpsec) edge (regptr) edge (regsecc);
\draw[isa] (regpepsec) edge (regpept) edge (regpsec);
\draw[isa] (nesec) edge (catsec) edge (net);
\draw[isa] (nreghsec) edge (reghsec) (ghsec) edge (phsec) (ghrsec) edge (phsec) (inssec) edge (phsec);
\draw[isa] (plocpsm) edge (plocpm) edge (ploco);
\draw[isa] (regphsec) edge (reghsec) edge (regpepsec);
\draw[isa] (nregpsec) edge (regpsec) edge (nregsecc);
\draw[isa] (nregpepsec) edge (regpepsec) edge (nregpsec);
\draw[isa] (nregcatsec) edge (regcatsec) (regnesec) edge (regcatsec) (angio) edge (asfm);
\draw[isa] (ntrl) edge (plocpsm) edge (rls);
\draw[isa] (regghsec) edge (regphsec) (reginssec) edge (regphsec) (regangio) edge (regasm) (sangio) edge (angio);
\draw[isa] (nregphsec) edge (regphsec) edge (nreghsec) edge (nregpepsec);
\draw[isa] (nregnesec) edge (regnesec) edge (nregcatsec);
\draw[isa] (regntrl) edge (regrls) edge (regpnrl);
\draw[isa] (nreginssec) edge (reginssec) edge (nregphsec);
\draw[isa] (pregangio) edge (regangio) edge (pregvdev);
\draw[isa] (regsangio) edge (regangio);
\draw[isa] (pregsangio) edge (regsangio) edge (pregangio);
\draw[isa] (asd) edge (dp) (tissd) edge (asd) (aod) edge (asd) (tubed) edge (asd) (mrp) edge (reprop);
\draw[isa] (dpir) edge (reprop) edge (dp);
\draw[isa] (fpreg) edge (mrp) (morp) edge (reprop) (pland) edge (tissd) (regasm) edge (regmod);
% part_of
\draw[partl] (pm) edge (cperi) (pmreg) edge (pm) (synm) edge (syn);
\draw[partl] (regapp) edge (rnut) (hmsig) edge (crhorm) (sigt) edge (crstim) (sigt) edge (ccomm);
\draw[partl] (digsp) edge (dig) (lilb) edge (lbeh) (tni) edge (ccomm) (srel) edge (ccsig) (sismc) edge (ismc);
\draw[partl] (cca) edge (ccb) (psyno) edge (syno) (regsyno) edge (regssa) (synas) edge (nsdev) (apod) edge (afo);
\draw[partl] (devg) edge (dp) (sysdev) edge (mod) (vdev) edge (csdev) (bvd) edge (vdev);
\draw[partl] (reprop) edge (repro) (morp) edge (mor) (tubem) edge (tubed) (mpfp) edge (fpreg);
\draw[partl] (asm) edge (asd) (asfm) edge (asm) (mpd) edge (pland) (decid) edge (mpd) (bvm) edge (bvd) (angio) edge (bvm);
% regulates
\draw[regl] (regrfood) edge (rfood) (regrnut) edge (rnut) (regrexc) edge (rexc) (regrext) edge (rext) (regrstress) edge (rstress);
\draw[regl] (regrs) edge (rstim) (regdef) edge (defr) (reginfl) edge (infl) (regpmp) edge (pmp) (reglmp) edge (lmp) (regfamp) edge (famp);
\draw[regl] (regsmmp) edge (smmp) (regckmp) edge (ckmp) (regge) edge (gexp) (regmmp) edge (mmp) (regmp) edge (mp) (regcmp) edge (cmp);
\draw[regl] (regcytok) edge (cytok) (regil6) edge (il6) (regil1) edge (il1) (regil1b) edge (il1b) (regtnfsf) edge (tnfsf) (regtnf) edge (tnf);
\draw[regl] (regloco) edge (loco) (regbp) edge (bp) (regsig) edge (sig) (reglilb) edge (lilb) (regmop) edge (mop) (regbeh) edge (beh);
\draw[regl] (regdsp) edge (digsp) (reggmot) edge (gmot) (regsit) edge (sit) (regsysp) edge (sysp) (regfbeh) edge (fbeh) (regebeh) edge (ebeh);
\draw[regl] (regmsp) edge (msp) (regst) edge (sigt) (regmcon) edge (mcon) (regsmcon) edge (smcon) (reghg) edge (hgcon) (reggism) edge (gism);
\draw[regl] (regsismc) edge (sismc) (regnsp) edge (nsp) (regtni) edge (tni) (regcc) edge (ccomm) (regcp) edge (cp) (regigfr) edge (igfr);
\draw[regl] (modcst) edge (cst) (regtsyn) edge (tsyn) (regcpp) edge (cpp) (regepi) edge (epi) (regendo) edge (endo) (regvendo) edge (vendo);
\draw[regl] (regccb) edge (ccb) (regcco) edge (cco) (regcja) edge (cja) (regsyno) edge (syno) (regsynas) edge (synas) (regpsyno) edge (psyno);
\draw[regl] (regcd) edge (cdeath) (regpcd) edge (pcd) (regapop) edge (apop) (regmcap) edge (mcap) (reglap) edge (lap) (regmapop) edge (mapop);
\draw[regl] (reggrowth) edge (growth) (regmog) edge (mog) (regdevg) edge (devg) (regcloc) edge (cloc) (regloc) edge (loc) (regdp) edge (dp);
\draw[regl] (regmod) edge (mod) (regploc) edge (ploc) (regrls) edge (rls) (regplocm) edge (plocm) (regplocp) edge (plocp) (regplocs) edge (plocs);
\draw[regl] (reghsec) edge (hsec) (regvdev) edge (vdev) (regntrl) edge (ntrl) (regestploc) edge (estploc) (regtr) edge (transp) (regsec) edge (secr);
\draw[regl] (regsecc) edge (secc) (regptr) edge (ptr) (regpsec) edge (psec) (regpept) edge (pept) (regpepsec) edge (pepsec) (regphsec) edge (phsec);
\draw[regl] (regghsec) edge (ghsec) (reginssec) edge (inssec) (regamt) edge (aminet) (regcatsec) edge (catsec) (regnesec) edge (nesec);
\draw[regl] (regasm) edge (asm) (regangio) edge (angio) (regsangio) edge (sangio);
% negatively regulates
\draw[negl] (nregrfood) edge (rfood) (nregrnut) edge (rnut) (nregrexc) edge (rexc) (nregrext) edge (rext) (nregrs) edge (rstim);
\draw[negl] (nregdef) edge (defr) (nreginfl) edge (infl) (nregge) edge (gexp) (nregmmp) edge (mmp) (nregmp) edge (mp);
\draw[negl] (nregcytok) edge (cytok) (nregil6) edge (il6) (nregil1) edge (il1) (nregil1b) edge (il1b) (nregtnfsf) edge (tnfsf) (nregtnf) edge (tnf);
\draw[negl] (nregloco) edge (loco) (nregbp) edge (bp) (nregsig) edge (sig) (nreglilb) edge (lilb) (nregmop) edge (mop) (nregbeh) edge (beh);
\draw[negl] (nregcc) edge (ccomm) (nregcp) edge (cp) (nregcd) edge (cdeath) (nregpcd) edge (pcd) (nregapop) edge (apop);
\draw[negl] (nregmcap) edge (mcap) (nreglap) edge (lap) (nregmapop) edge (mapop) (nregploc) edge (ploc) (nreghsec) edge (hsec);
\draw[negl] (nregestploc) edge (estploc) (nregtr) edge (transp) (nregsec) edge (secr) (nregsecc) edge (secc) (nregptr) edge (ptr);
\draw[negl] (nregpsec) edge (psec) (nregpepsec) edge (pepsec) (nregphsec) edge (phsec) (nreginssec) edge (inssec);
\draw[negl] (nregamt) edge (aminet) (nregcatsec) edge (catsec) (nregnesec) edge (nesec);
% positively regulates
\draw[posl] (pregrfood) edge (rfood) (pregrnut) edge (rnut) (pregrexc) edge (rexc) (pregrext) edge (rext) (pregrs) edge (rstim);
\draw[posl] (preglmp) edge (lmp) (pregfamp) edge (famp) (pregsmmp) edge (smmp) (pregmp) edge (mp) (pregcmp) edge (cmp);
\draw[posl] (pregbp) edge (bp) (pregsig) edge (sig) (pregmop) edge (mop) (pregbeh) edge (beh) (pregdsp) edge (digsp) (pregsit) edge (sit);
\draw[posl] (pregfbeh) edge (fbeh) (pregebeh) edge (ebeh) (pregst) edge (sigt) (pregmcon) edge (mcon) (pregsmcon) edge (smcon);
\draw[posl] (preggism) edge (gism) (pregsismc) edge (sismc) (pregigfr) edge (igfr) (pregcc) edge (ccomm) (pregcp) edge (cp);
\draw[posl] (pregcpp) edge (cpp) (pregepi) edge (epi) (pregendo) edge (endo) (pregvendo) edge (vendo) (preggrowth) edge (growth);
\draw[posl] (pregmog) edge (mog) (pregdevg) edge (devg) (pregdp) edge (dp) (pregvdev) edge (vdev) (pregangio) edge (angio) (pregsangio) edge (sangio);
\end{pgfonlayer}
\end{tikzpicture}
\end{document}
